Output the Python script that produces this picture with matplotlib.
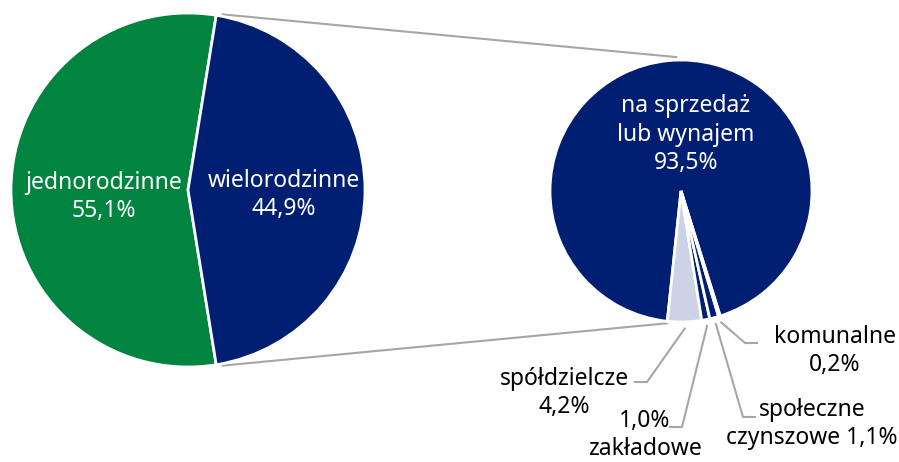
import matplotlib

matplotlib.use("Agg")
import matplotlib.pyplot as plt
import numpy as np

plt.rcParams["font.family"] = ["Noto Sans", "DejaVu Sans"]

# data
main_labels = ["jednorodzinne", "wielorodzinne"]
main_values = [55.1, 44.9]
sub_labels = ["na sprzedaż\nlub wynajem", "spółdzielcze", "zakładowe",
              "społeczne\nczynszowe", "komunalne"]
sub_values = [93.5, 4.2, 1.0, 1.1, 0.2]

NAVY = "#001f73"
GREEN = "#00843f"
LIGHT = "#cdd3e6"
GREY = "#a6a6a6"

W, H = 899, 462
left_c, left_r = (188, 272), 177
right_c, right_r = (681, 271), 131


def pct(v):
    return f"{v:.1f}".replace(".", ",") + "%"


def polar(c, r, ang):
    a = np.deg2rad(ang)
    return c[0] + r * np.cos(a), c[1] + r * np.sin(a)


fig = plt.figure(figsize=(W / 100, H / 100), dpi=100)
ax = fig.add_axes([0, 0, 1, 1])

left_start = main_values[1] / 100 * 180
ax.pie(main_values, colors=[GREEN, NAVY], startangle=left_start,
       center=left_c, radius=left_r,
       wedgeprops=dict(edgecolor="white", linewidth=2))

right_start = -72.6
wedges, _ = ax.pie(sub_values, colors=[NAVY, LIGHT, NAVY, NAVY, NAVY],
                   startangle=right_start, center=right_c, radius=right_r,
                   wedgeprops=dict(edgecolor="white", linewidth=2))

ax.set_xlim(0, W)
ax.set_ylim(0, H)
ax.set_aspect("equal")
ax.axis("off")

# connector lines between the two pies
top_a = left_start
x0, y0 = polar(left_c, left_r + 2, top_a - 2)
x1, y1 = polar(right_c, right_r + 3, 92)
ax.plot([x0, x1], [y0, y1], color=GREY, lw=1.5, zorder=0)
x0, y0 = polar(left_c, left_r + 2, -top_a + 2)
x1, y1 = polar(right_c, right_r + 2, wedges[1].theta1)
ax.plot([x0, x1], [y0, y1], color=GREY, lw=1.5, zorder=0)

fs = 16.5
ls = 1.25
ax.text(104, H - 197, f"{main_labels[0]}\n{pct(main_values[0])}", color="white",
        fontsize=fs, ha="center", va="center", linespacing=ls)
ax.text(284, H - 195, f"{main_labels[1]}\n{pct(main_values[1])}", color="white",
        fontsize=fs, ha="center", va="center", linespacing=ls)
ax.text(686, H - 135, f"{sub_labels[0]}\n{pct(sub_values[0])}", color="white",
        fontsize=fs, ha="center", va="center", linespacing=ls)

# outside labels with leader lines: text pos, elbow, end of horizontal
outside = [
    (f"{sub_labels[1]}\n{pct(sub_values[1])}", (564, 393), (647, 382), (635, 382)),
    (f"{pct(sub_values[2])}\n{sub_labels[2]}", (645, 435), (682, 427), (670, 427)),
    (f"{sub_labels[3]} {pct(sub_values[3])}", (812, 424), (743, 417), (755, 417)),
    (f"{sub_labels[4]}\n{pct(sub_values[4])}", (835, 351), (745, 343), (757, 343)),
]
for i, (txt, tpos, elbow, hend) in enumerate(outside, start=1):
    w = wedges[i]
    mid = (w.theta1 + w.theta2) / 2
    sx, sy = polar(right_c, right_r * 1.05, mid)
    ax.plot([sx, elbow[0], hend[0]], [sy, H - elbow[1], H - hend[1]],
            color=GREY, lw=1.5)
    ax.text(tpos[0], H - tpos[1], txt, color="black", fontsize=fs,
            ha="center", va="center", linespacing=ls)

fig.savefig("out.png", dpi=100)
